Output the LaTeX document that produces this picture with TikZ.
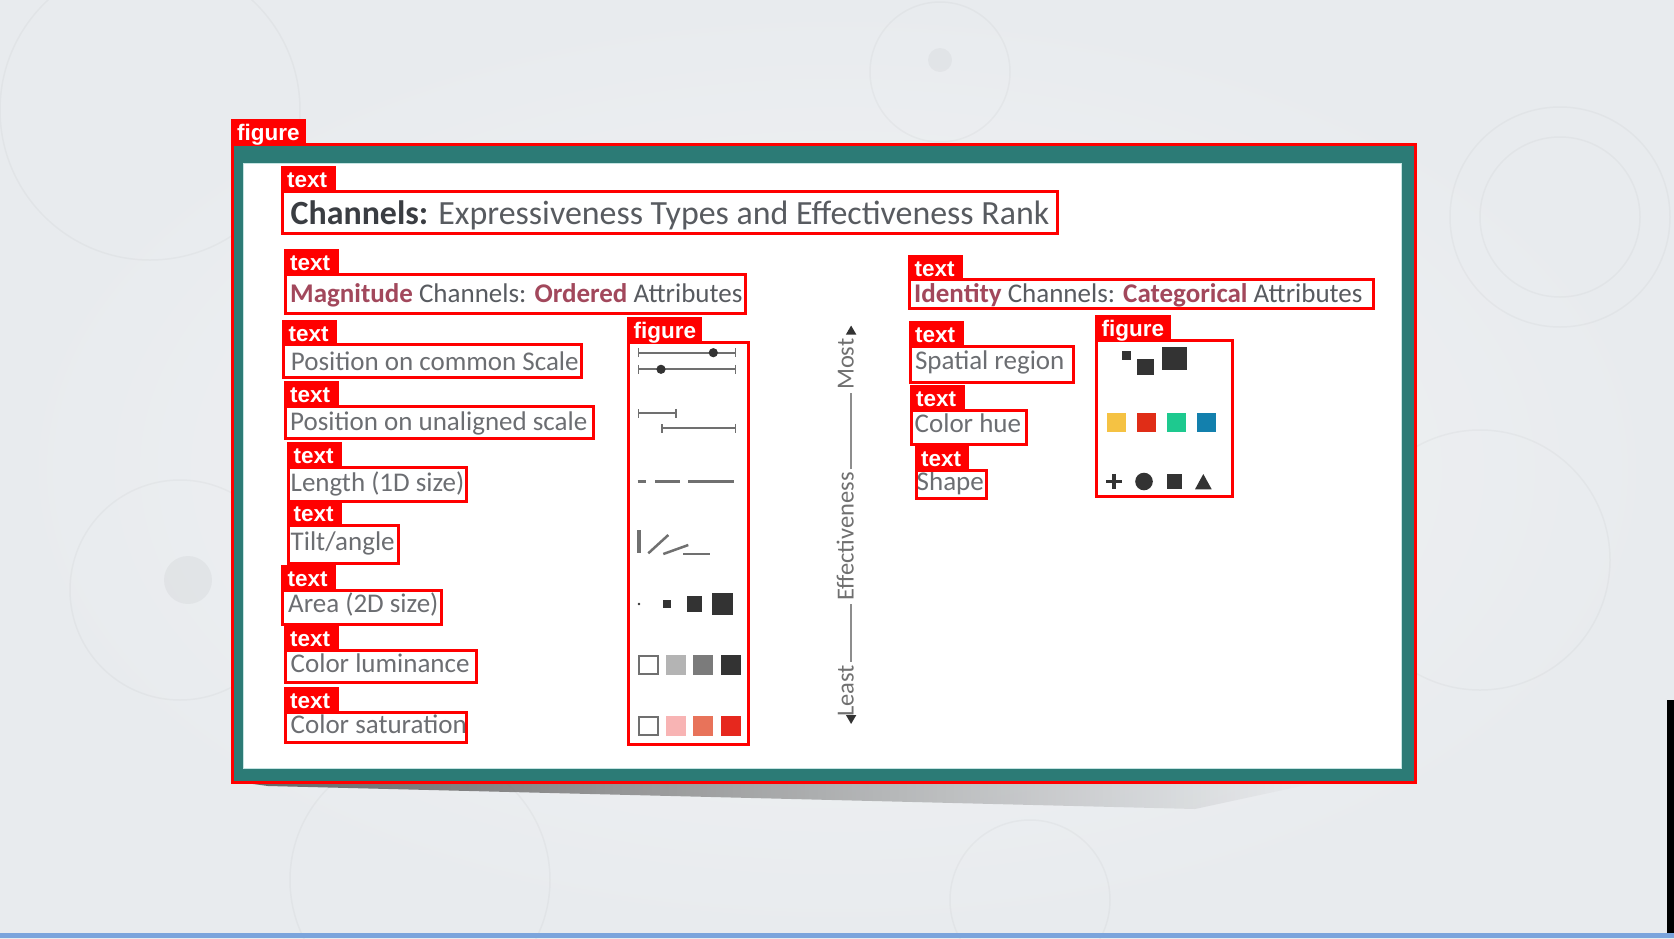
\documentclass[tikz,border=0pt]{standalone}
\usepackage{fontspec}
\setmainfont{Carlito}
\newfontfamily\tagfont{Liberation Sans}
\usetikzlibrary{arrows.meta,fadings}

\definecolor{annored}{RGB}{255,0,0}
\definecolor{frameteal}{RGB}{44,123,118}
\definecolor{framehalo}{RGB}{196,228,226}
\definecolor{titledark}{RGB}{58,61,66}
\definecolor{titlegray}{RGB}{88,91,96}
\definecolor{itemgray}{RGB}{108,110,114}
\definecolor{rose}{RGB}{162,72,92}
\definecolor{axisgray}{RGB}{112,112,112}
\definecolor{icondark}{RGB}{51,51,51}
\definecolor{icongray}{RGB}{112,112,112}
\definecolor{bgpale}{RGB}{243,244,246}
\definecolor{bgedge}{RGB}{232,235,238}
\definecolor{bluebar}{RGB}{123,164,220}
\definecolor{lumlow}{RGB}{180,180,180}
\definecolor{lummid}{RGB}{123,123,123}
\definecolor{lumhigh}{RGB}{51,51,51}
\definecolor{satlow}{RGB}{248,180,180}
\definecolor{satmid}{RGB}{232,115,90}
\definecolor{sathigh}{RGB}{230,40,30}
\definecolor{hueyellow}{RGB}{245,194,67}
\definecolor{huered}{RGB}{224,45,23}
\definecolor{huegreen}{RGB}{30,201,143}
\definecolor{hueblue}{RGB}{19,128,173}

% red box with its tag: name, tag, x1, y1, x2, y2, tag width
\newcommand{\markregion}[7]{%
  \draw[annobox] (#3,#4) rectangle (#5,#6);
  \fill[annored] (#3-1.5,#4) rectangle (#3+#7,#4-25);
  \node (#1) at (#3+5,#4-3.5) [tagtext] {#2};
}

\begin{document}
\begin{tikzpicture}[x=1pt,y=-1pt,
    annobox/.style={draw=annored, line width=3pt},
    tagtext/.style={anchor=base west, inner sep=0pt, text=white, font=\tagfont\bfseries\fontsize{22.5}{24}\selectfont},
    itemtext/.style={anchor=base west, inner sep=0pt, text=itemgray, font=\fontsize{27}{31}\selectfont},
    headtext/.style={anchor=base west, inner sep=0pt, text=titlegray, font=\fontsize{27}{31}\selectfont},
    axistext/.style={rotate=90, anchor=base, inner sep=3pt, text=axisgray, font=\fontsize{24.5}{28}\selectfont},
    axisline/.style={draw=axisgray!80, line width=1.5pt},
    scaleline/.style={icongray, line width=1.8pt, {Bar[width=9pt,line width=1.5pt]}-{Bar[width=9pt,line width=1.5pt]}},
    tiltline/.style={icongray, line width=2.5pt},
    bgring/.style={draw=gray, draw opacity=0.06, line width=1.5pt}]

    \useasboundingbox (0,0) rectangle (1674,938);

    % Background of the slide
    \shade[inner color=bgpale, outer color=bgedge] (0,0) rectangle (1674,938);
    \draw[bgring] (940,72) circle (70);
    \fill[gray, opacity=0.07] (940,60) circle (12);
    \draw[bgring] (150,110) circle (150);
    \draw[bgring] (1560,217) circle (110);
    \draw[bgring] (1560,217) circle (80);
    \draw[bgring] (180,590) circle (110);
    \fill[gray, opacity=0.08] (188,580) circle (24);
    \draw[bgring] (1480,560) circle (130);
    \draw[bgring] (1030,900) circle (80);
    \draw[bgring] (420,880) circle (130);
    \fill[black] (1667,700) rectangle (1674,933);
    \fill[bluebar] (0,933) rectangle (1674,938);

    % Shadow under the frame
    \fill[black!60, path fading=east] (238,782) -- (1320,782) -- (1195,809) -- (268,786) -- cycle;

    % Teal frame and white sheet
    \fill[frameteal] (232,144) rectangle (1415,782);
    \fill[white] (243,163) rectangle (1401,768);
    \draw[framehalo, line width=1pt] (243,163) rectangle (1401,768);

    % Title and headings
    \node (title) at (290.5,224) [anchor=base west, inner sep=0pt, font=\fontsize{33.9}{38}\selectfont]
      {\textcolor{titledark}{\bfseries Channels:} \textcolor{titlegray}{Expressiveness Types and Effectiveness Rank}};
    \node (maghead) at (290,302) [headtext]
      {{\color{rose}\bfseries Magnitude} Channels: {\color{rose}\bfseries Ordered} Attributes};
    \node (idhead) at (914,302.7) [headtext]
      {{\color{rose}\bfseries Identity} Channels: {\color{rose}\bfseries Categorical} Attributes};

    % Magnitude channels
    \node (poscommon) at (290.7,370) [itemtext] {Position on common Scale};
    \node (posunalign) at (290,430) [itemtext] {Position on unaligned scale};
    \node (length) at (290.5,491) [itemtext] {Length (1D size)};
    \node (tilt) at (290.5,550.7) [itemtext] {Tilt/angle};
    \node (area) at (288,612.7) [itemtext] {Area (2D size)};
    \node (lumin) at (290.5,672.7) [itemtext] {Color luminance};
    \node (satur) at (290.5,733.3) [itemtext] {Color saturation};

    % Identity channels
    \node (spatial) at (914.8,369.3) [itemtext] {Spatial region};
    \node (hue) at (914.5,432.7) [itemtext] {Color hue};
    \node (shape) at (916.5,490.7) [itemtext] {Shape};

    % Magnitude icons: scales
    \draw[scaleline] (637.7,352.7) -- (736,352.7);
    \fill[icondark] (713.3,352.7) circle (4.6);
    \draw[scaleline] (637.7,369.3) -- (736,369.3);
    \fill[icondark] (661,369.3) circle (4.6);
    \draw[scaleline] (637.7,413.3) -- (676.7,413.3);
    \draw[scaleline] (661,428.3) -- (736,428.3);

    % Magnitude icons: length and tilt
    \draw[icongray, line width=3pt] (637.7,481.7) -- (646,481.7);
    \draw[icongray, line width=3pt] (655,481.7) -- (680,481.7);
    \draw[icongray, line width=3pt] (688.3,481.7) -- (734,481.7);
    \draw[tiltline, line width=3.5pt] (639,530) -- (639,553.3);
    \draw[tiltline] (648.3,553.3) -- (668.3,535);
    \draw[tiltline] (663.3,554) -- (688.3,545);
    \draw[tiltline] (683.3,554) -- (710,554);

    % Magnitude icons: area
    \fill[icondark] (639,604) circle (1.4);
    \foreach \cx/\side in {667.2/8, 694.5/15.5, 722.5/21.5}
      \fill[icondark] (\cx-\side/2,604-\side/2) rectangle (\cx+\side/2,604+\side/2);

    % Magnitude icons: luminance and saturation
    \draw[icongray, line width=2pt] (638.5,655.5) rectangle (657.5,673.5);
    \foreach \sx/\shade in {665.5/lumlow, 693/lummid, 721/lumhigh}
      \fill[\shade] (\sx,654.5) rectangle (\sx+20,674.5);
    \draw[icongray, line width=2pt] (638.5,716.5) rectangle (657.5,734.5);
    \foreach \sx/\shade in {665.5/satlow, 693/satmid, 721/sathigh}
      \fill[\shade] (\sx,715.5) rectangle (\sx+20,735.5);

    % Identity icons
    \fill[icondark] (1121.7,351) rectangle (1131,360);
    \fill[icondark] (1137.3,359) rectangle (1154,375);
    \fill[icondark] (1162.3,346.7) rectangle (1186.7,370);
    \foreach \sx/\shade in {1106.7/hueyellow, 1137.3/huered, 1166.7/huegreen, 1196.7/hueblue}
      \fill[\shade] (\sx,413.3) rectangle (\sx+19,431.5);
    \draw[icondark, line width=3.5pt] (1106.3,481.5) -- (1121.7,481.5);
    \draw[icondark, line width=3.5pt] (1114,473.8) -- (1114,489.2);
    \fill[icondark] (1144,481.5) circle (8.8);
    \fill[icondark] (1166.7,473.5) rectangle (1181.7,489);
    \fill[icondark] (1195,489.3) -- (1211.7,489.3) -- (1203.3,474) -- cycle;

    % Effectiveness axis
    \node (most) at (853.5,364.2) [axistext] {Most};
    \node (effect) at (853.5,536.5) [axistext] {Effectiveness};
    \node (least) at (853.5,690.8) [axistext] {Least};
    \coordinate (toptip) at (846.7,325.5);
    \coordinate (bottip) at (846.7,724);
    \draw[axisline] (least.mid east) -- (effect.mid west);
    \draw[axisline] (effect.mid east) -- (most.mid west);
    \draw[axisline, draw=icondark, shorten <=3pt, -{Triangle[width=10pt,length=9pt]}] (most.mid east) -- (most.mid east |- toptip);
    \draw[axisline, draw=icondark, shorten <=3pt, -{Triangle[width=10pt,length=9pt]}] (least.mid west) -- (least.mid west |- bottip);

    % Detection boxes
    \markregion{tagslide}{figure}{232}{144}{1415}{782}{74}
    \markregion{tagtitle}{text}{282}{191}{1057}{233.5}{53.5}
    \markregion{tagmag}{text}{285}{274}{745}{313}{54}
    \markregion{tagid}{text}{909.5}{279.5}{1373.5}{308.5}{53}
    \markregion{tagcommon}{text}{283.5}{344.5}{581}{377}{53}
    \markregion{tagunalign}{text}{285}{406}{593}{438.5}{53.5}
    \markregion{taglength}{text}{288.5}{467}{466.5}{501.5}{53}
    \markregion{tagtilt}{text}{288.5}{525}{398}{563}{53}
    \markregion{tagarea}{text}{282.5}{590}{441}{624.5}{53}
    \markregion{taglumin}{text}{285}{650}{476.5}{682}{53.5}
    \markregion{tagsatur}{text}{285}{712}{466}{742}{53.5}
    \markregion{tagmagfig}{figure}{628.5}{342}{748}{744.5}{73.5}
    \markregion{tagspatial}{text}{910}{346}{1073}{382}{54}
    \markregion{taghue}{text}{911}{410}{1026}{444}{53.5}
    \markregion{tagshape}{text}{916}{470}{986.5}{498.5}{53}
    \markregion{tagidfig}{figure}{1096.5}{340}{1232.5}{496.5}{74}
\end{tikzpicture}
\end{document}
